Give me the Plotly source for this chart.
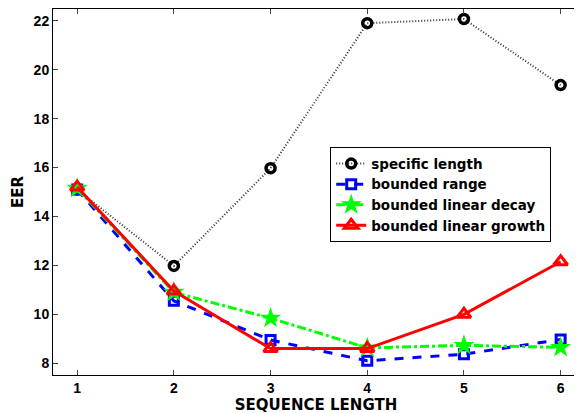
import plotly.graph_objects as go

seq_len = [1, 2, 3, 4, 5, 6]
specific_length = [15.1, 11.98, 15.97, 21.9, 22.07, 19.37]
bounded_range = [15.1, 10.55, 8.95, 8.1, 8.37, 8.97]
bounded_linear_decay = [15.15, 10.9, 9.84, 8.63, 8.73, 8.65]
bounded_linear_growth = [15.2, 10.95, 8.6, 8.6, 10.0, 12.15]

x_ticks = [1, 2, 3, 4, 5, 6]
y_ticks = [8, 10, 12, 14, 16, 18, 20, 22]

fig = go.Figure()
fig.add_trace(go.Scatter(x=seq_len, y=specific_length, name="specific length",
                         mode="lines+markers",
                         line=dict(color="#333333", width=2, dash="1px,2px"),
                         marker=dict(symbol="circle-open", size=9, color="black", line=dict(width=3.5))))
fig.add_trace(go.Scatter(x=seq_len, y=bounded_range, name="bounded range",
                         mode="lines+markers",
                         line=dict(color="#0000ff", width=3, dash="dash"),
                         marker=dict(symbol="square-open", size=9, color="#0000ff", line=dict(width=3))))
fig.add_trace(go.Scatter(x=seq_len, y=bounded_linear_decay, name="bounded linear decay",
                         mode="lines+markers",
                         line=dict(color="#00ff00", width=3, dash="dashdot"),
                         marker=dict(symbol="star", size=16, color="#00ff00")))
fig.add_trace(go.Scatter(x=seq_len, y=bounded_linear_growth, name="bounded linear growth",
                         mode="lines+markers",
                         line=dict(color="#ff0000", width=3),
                         marker=dict(symbol="triangle-up-open", size=12, color="#ff0000", line=dict(width=3))))

tick_font = dict(family="Liberation Sans, Arial, sans-serif", size=14, color="black", weight="bold")
title_font = dict(family="DejaVu Sans, sans-serif", size=15, color="black", weight="bold")
legend_font = dict(family="DejaVu Sans, sans-serif", size=13.5, color="black", weight="bold")

# page body has an 8px default margin; margins are shifted to compensate
fig.update_layout(
    width=582, height=413,
    margin=dict(l=45, r=11, t=1, b=46, autoexpand=False),
    paper_bgcolor="white", plot_bgcolor="white",
    font=tick_font,
    showlegend=True,
    legend=dict(x=0.527, y=0.622, xanchor="left", yanchor="top",
                bgcolor="white", bordercolor="black", borderwidth=1,
                font=legend_font, tracegroupgap=0, itemsizing="trace"),
)
fig.update_xaxes(range=[0.75, 6.19], tickvals=x_ticks, ticks="inside", ticklen=5,
                 showline=True, linecolor="black", linewidth=1, mirror="ticks",
                 showgrid=False, zeroline=False, automargin=False, tickfont=tick_font,
                 title=dict(text="SEQUENCE LENGTH", standoff=3, font=title_font))
fig.update_yaxes(range=[7.52, 22.48], tickvals=y_ticks, ticks="inside", ticklen=5,
                 showline=True, linecolor="black", linewidth=1, mirror="ticks",
                 showgrid=False, zeroline=False, automargin=False, tickfont=tick_font,
                 title=dict(text="EER", standoff=6, font=title_font))

fig.write_html("out.html")
